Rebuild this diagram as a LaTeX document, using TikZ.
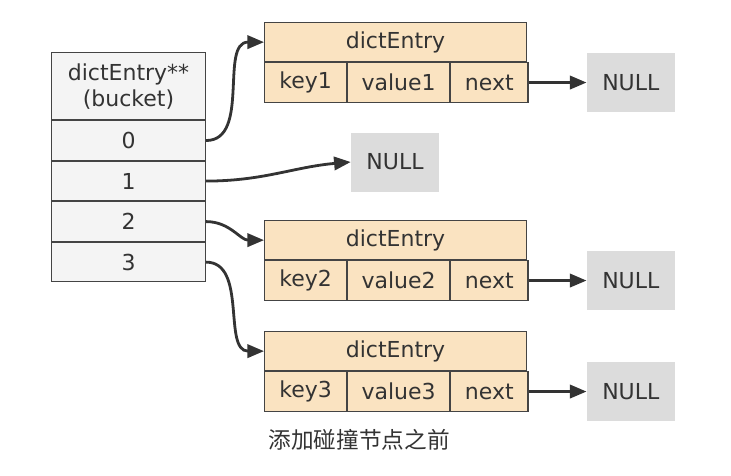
\documentclass[tikz,border=0pt]{standalone}
\usepackage{fontspec}
\setmainfont{DejaVu Sans}
\newfontfamily\cjk{Noto Sans CJK SC}
\usetikzlibrary{arrows.meta,positioning}
\definecolor{txt}{HTML}{333333}
\definecolor{edge}{HTML}{444444}
\definecolor{bucketbg}{HTML}{F4F4F4}
\definecolor{entrybg}{HTML}{FAE3C1}
\definecolor{nullbg}{HTML}{DCDCDC}
\tikzset{
  >={Triangle[length=12.5pt,width=10pt]},
  cell/.style={draw=edge,line width=0.8pt,text=txt,font=\fontsize{16.5}{19.5}\selectfont,inner sep=0pt,minimum height=29.6pt},
  bcell/.style={cell,fill=bucketbg,minimum width=115.5pt},
  ehead/.style={cell,fill=entrybg,minimum width=196.5pt,minimum height=29.4pt},
  ecell/.style={cell,fill=entrybg},
  nullbox/.style={fill=nullbg,text=txt,font=\fontsize{16.5}{19.5}\selectfont,minimum width=66pt,minimum height=44.25pt,inner sep=0pt},
  ptr/.style={->,draw=txt,line width=2.1pt}
}

\begin{document}
\begin{tikzpicture}[x=0.75pt,y=-0.75pt,node distance=0pt]
\useasboundingbox (0,0) rectangle (731,475);
% bucket array
\node[bcell,minimum height=50.4pt,align=center,anchor=north west](bhead) at (51,52){dictEntry**\\(bucket)};
\node[bcell,below=of bhead](b0){0};
\node[bcell,below=of b0](b1){1};
\node[bcell,below=of b1](b2){2};
\node[bcell,below=of b2](b3){3};
% entries
\node[ehead,anchor=north west](e1) at (264,22){dictEntry};
\node[ecell,minimum width=61.5pt,anchor=north west](k1) at (e1.south west){key1};
\node[ecell,minimum width=76.5pt,right=of k1](v1){value1};
\node[ecell,minimum width=58pt,right=of v1](n1){next};
\node[nullbox,right=43.5pt of n1](z1){NULL};
\node[ehead,anchor=north west](e2) at (264,220){dictEntry};
\node[ecell,minimum width=61.5pt,anchor=north west](k2) at (e2.south west){key2};
\node[ecell,minimum width=76.5pt,right=of k2](v2){value2};
\node[ecell,minimum width=58pt,right=of v2](n2){next};
\node[nullbox,right=43.5pt of n2](z2){NULL};
\node[ehead,anchor=north west](e3) at (264,331){dictEntry};
\node[ecell,minimum width=61.5pt,anchor=north west](k3) at (e3.south west){key3};
\node[ecell,minimum width=76.5pt,right=of k3](v3){value3};
\node[ecell,minimum width=58pt,right=of v3](n3){next};
\node[nullbox,right=43.5pt of n3](z3){NULL};
\node[nullbox](zb) at (395,162){NULL};
% pointers
\draw[ptr](b0.east) to[out=0,in=180](e1.west);
\draw[ptr](b1.east) to[out=0,in=185](zb.west);
\draw[ptr](b2.east) to[out=0,in=180](e2.west);
\draw[ptr](b3.east) to[out=0,in=180](e3.west);
\draw[ptr](n1.east)--(z1.west);
\draw[ptr](n2.east)--(z2.west);
\draw[ptr](n3.east)--(z3.west);
\node[text=txt,font=\cjk\fontsize{17}{20}\selectfont](cap) at (359,440){添加碰撞节点之前};
\end{tikzpicture}
\end{document}
